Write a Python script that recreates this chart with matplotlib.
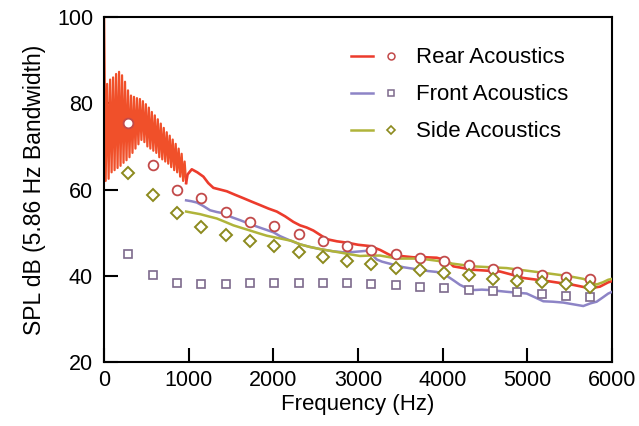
import numpy as np
import matplotlib
matplotlib.use('Agg')
import matplotlib.pyplot as plt
from matplotlib.lines import Line2D
from matplotlib.legend_handler import HandlerTuple

plt.rcParams['font.family'] = ['Liberation Sans', 'DejaVu Sans']

# marker data (every 287 Hz)
marker_freq = [287, 574, 861, 1148, 1435, 1722, 2009, 2296, 2583, 2870,
               3157, 3444, 3731, 4018, 4305, 4592, 4879, 5166, 5453, 5740]
rear_pts = [75.5, 65.7, 59.8, 58.0, 54.9, 52.4, 51.6, 49.6, 48.0, 46.9,
            46.1, 45.1, 44.2, 43.4, 42.6, 41.7, 41.0, 40.3, 39.8, 39.2]
front_pts = [45.0, 40.2, 38.4, 38.1, 38.1, 38.4, 38.4, 38.4, 38.4, 38.3,
             38.1, 37.9, 37.5, 37.2, 36.7, 36.4, 36.3, 35.9, 35.4, 35.1]
side_pts = [63.9, 58.8, 54.6, 51.3, 49.4, 48.0, 46.9, 45.6, 44.3, 43.4,
            42.8, 41.8, 41.4, 40.6, 40.1, 39.3, 38.8, 38.5, 38.0, 37.5]

# low-frequency comb of the rear measurement (17.6 Hz steps)
comb_step = 17.6
comb_db = [100, 62, 84.5, 62.5, 85.5, 64, 86, 64.5, 86.8, 65,
           87.3, 65.5, 86.5, 66.2, 85, 66.8, 83, 67.5, 81.8, 68.5,
           81.5, 69.5, 81.2, 70.5, 81, 71.5, 80.5, 71, 79.8, 70,
           79, 69.5, 78, 69, 77.2, 68.5, 76.3, 67.5, 75.3, 67,
           74.3, 66.5, 73.3, 66, 72.5, 65.2, 71.6, 64.5, 70.6, 64,
           69.5, 63, 68.3, 62, 66.5, 61.5]

rear_freq = [985, 1035, 1100, 1172, 1230, 1290, 1370, 1449, 1545, 1645,
             1742, 1842, 1940, 2039, 2137, 2235, 2314, 2392, 2471, 2550,
             2629, 2750, 2865, 3000, 3140, 3260, 3377, 3500, 3652, 3800,
             3928, 4000, 4085, 4124, 4240, 4360, 4520, 4675, 4810, 4951,
             5110, 5266, 5400, 5541, 5640, 5738, 5856, 5954, 6000]
rear_db = [63.5, 64.7, 64.0, 63.0, 61.5, 60.4, 60.0, 59.6, 58.8, 58.0,
           57.2, 56.4, 55.6, 54.9, 53.8, 52.5, 51.7, 51.2, 50.5, 49.5,
           48.5, 48.0, 47.7, 47.2, 46.9, 46.0, 44.8, 44.6, 44.3, 44.3,
           44.2, 43.8, 43.0, 42.2, 41.8, 41.4, 41.2, 41.0, 40.3, 39.5,
           39.1, 38.7, 38.3, 37.9, 37.5, 37.1, 37.5, 38.5, 38.8]

front_freq = [968, 1030, 1094, 1170, 1251, 1330, 1409, 1506, 1606, 1685,
              1763, 1880, 1999, 2078, 2196, 2314, 2430, 2550, 2700, 2865,
              2980, 3101, 3160, 3219, 3280, 3337, 3434, 3534, 3631, 3731,
              3830, 3928, 4010, 4085, 4145, 4203, 4280, 4360, 4460, 4557,
              4654, 4754, 4870, 4990, 5090, 5187, 5300, 5423, 5540, 5659,
              5740, 5817, 5890, 5954, 6000]
front_db = [57.5, 57.3, 57.0, 56.2, 55.2, 54.8, 54.5, 53.6, 52.9, 52.3,
            51.7, 50.9, 50.1, 49.2, 48.2, 47.3, 46.7, 46.2, 45.7, 45.4,
            45.6, 45.8, 45.0, 43.8, 43.3, 43.0, 42.5, 42.0, 41.7, 41.4,
            41.1, 40.9, 40.4, 39.5, 38.7, 37.9, 37.2, 36.7, 36.8, 36.7,
            36.5, 36.3, 36.1, 35.9, 35.0, 34.1, 34.0, 33.8, 33.4, 33.0,
            33.6, 34.0, 35.0, 35.9, 36.3]

side_freq = [968, 1050, 1133, 1230, 1330, 1430, 1527, 1625, 1724, 1820,
             1921, 2020, 2117, 2215, 2314, 2430, 2550, 2670, 2786, 2900,
             3022, 3140, 3258, 3376, 3494, 3612, 3730, 3850, 3967, 4085,
             4203, 4360, 4550, 4754, 4910, 5069, 5230, 5384, 5520, 5659,
             5740, 5817, 5890, 5954, 6000]
side_db = [54.9, 54.6, 54.3, 53.8, 53.3, 52.5, 51.7, 51.1, 50.5, 49.9,
           49.3, 48.9, 48.5, 48.1, 47.3, 46.7, 46.2, 45.8, 45.4, 45.0,
           44.6, 44.7, 44.7, 44.3, 44.0, 44.0, 44.0, 43.7, 43.4, 42.9,
           42.6, 42.2, 42.0, 41.8, 41.4, 41.0, 40.6, 40.2, 39.8, 39.3,
           38.7, 38.0, 38.5, 39.1, 39.3]

labels = ['Rear Acoustics', 'Front Acoustics', 'Side Acoustics']
x_ticks = [0, 1000, 2000, 3000, 4000, 5000, 6000]
y_ticks = [20, 40, 60, 80, 100]

red = '#ec3b2c'
blue = '#8d84c6'
green = '#b0b43a'
c_circ = '#c24a4a'
c_sq = '#7d6a8c'
c_dia = '#8c8a1e'

fig = plt.figure(figsize=(6.39, 4.26), dpi=100)
ax = fig.add_axes([0.163, 0.150, 0.795, 0.810])

comb_freq = np.arange(len(comb_db)) * comb_step
ax.plot(comb_freq, comb_db, color='#f0502a', lw=1.6, zorder=2)
ax.plot(np.r_[comb_freq[-1], rear_freq], np.r_[comb_db[-1], rear_db],
        color=red, lw=1.9, zorder=3)
ax.plot(front_freq, front_db, color=blue, lw=1.8, zorder=3)
ax.plot(side_freq, side_db, color=green, lw=1.8, zorder=3)

ax.plot(marker_freq, rear_pts, 'o', ms=7, mfc='white', mec=c_circ, mew=1.3, zorder=5)
ax.plot(marker_freq, front_pts, 's', ms=6, mfc='white', mec=c_sq, mew=1.2, zorder=5)
ax.plot(marker_freq, side_pts, 'D', ms=6, mfc='white', mec=c_dia, mew=1.4, zorder=5)

ax.set_xlim(0, 6000)
ax.set_ylim(20, 100)
ax.set_xticks(x_ticks)
ax.set_yticks(y_ticks)
ax.tick_params(direction='in', length=10, width=1.5, labelsize=15.5)
ax.tick_params(axis='x', pad=6)
ax.tick_params(axis='y', pad=8)
for s in ax.spines.values():
    s.set_linewidth(1.5)
ax.set_xlabel('Frequency (Hz)', fontsize=16, labelpad=2)
ax.set_ylabel('SPL dB (5.86 Hz Bandwidth)', fontsize=16.5, labelpad=8)

handles = [
    (Line2D([], [], color=red, lw=1.8),
     Line2D([], [], ls='', marker='o', ms=5, mfc='white', mec=c_circ, mew=1.1)),
    (Line2D([], [], color=blue, lw=1.8),
     Line2D([], [], ls='', marker='s', ms=4.5, mfc='white', mec=c_sq, mew=1.1)),
    (Line2D([], [], color=green, lw=1.8),
     Line2D([], [], ls='', marker='D', ms=4.5, mfc='white', mec=c_dia, mew=1.2)),
]
ax.legend(handles, labels, handler_map={tuple: HandlerTuple(ndivide=2, pad=0.3)},
          loc='upper left', bbox_to_anchor=(0.447, 0.97), frameon=False,
          fontsize=16, handlelength=2.3, handletextpad=0.6, labelspacing=0.72)

fig.savefig('out.png', dpi=100)
